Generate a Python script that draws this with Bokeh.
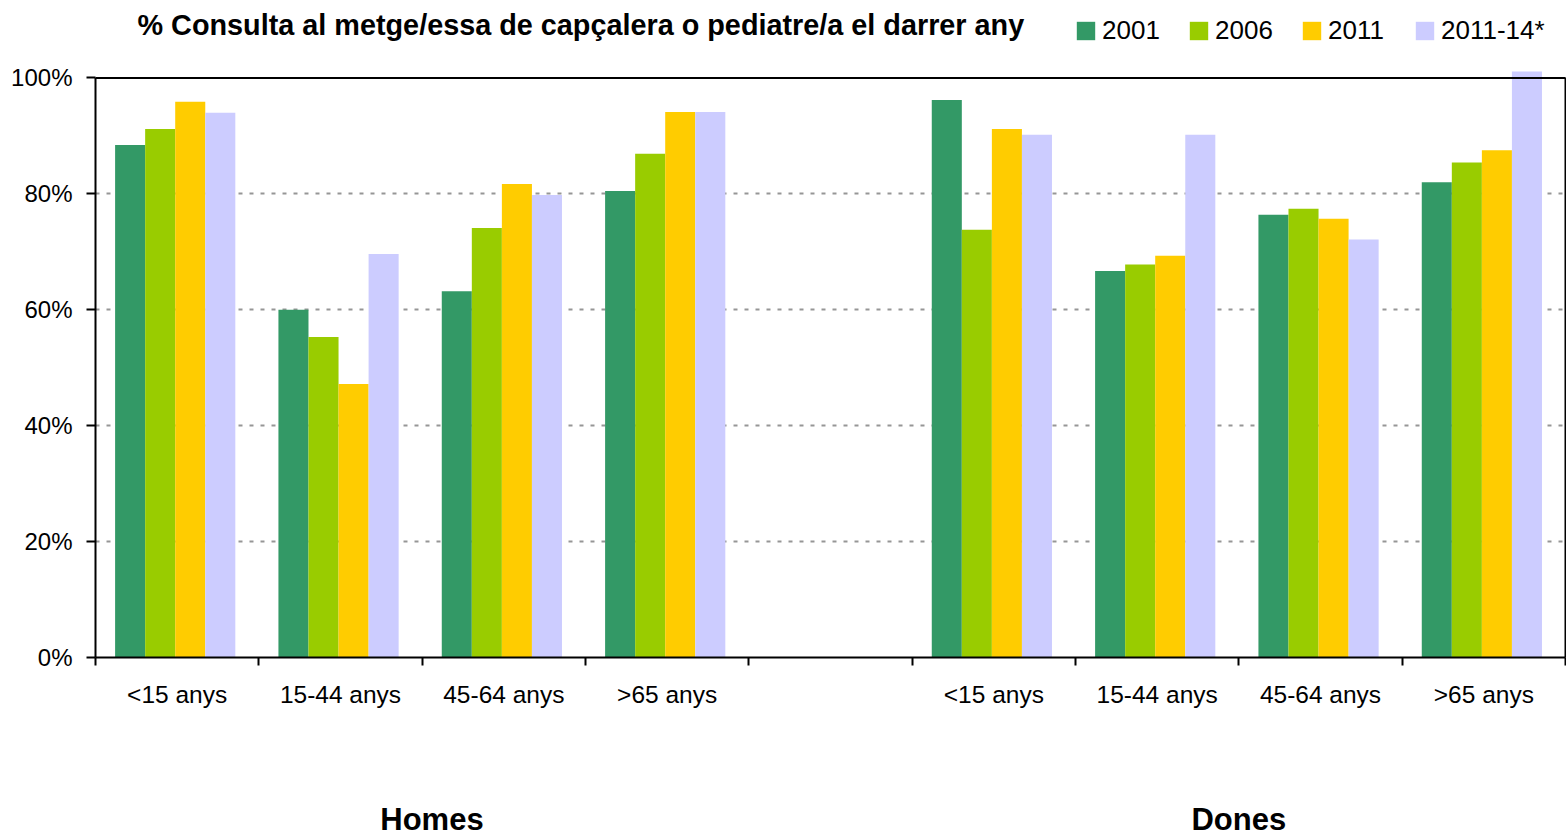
from bokeh.plotting import figure
from bokeh.models import (ColumnDataSource, Range1d, FixedTicker, PrintfTickFormatter,
                          Legend, LegendItem, Span, LinearAxis, Label)
from bokeh.embed import file_html
from bokeh.resources import INLINE
from bokeh.transform import dodge

# ---------------- data ----------------
slots = [0, 1, 2, 3, 5, 6, 7, 8]          # category slot (slot 4 is an empty gap)
age_labels = ["<15 anys", "15-44 anys", "45-64 anys", ">65 anys",
              "<15 anys", "15-44 anys", "45-64 anys", ">65 anys"]
groups = ["Homes", "Dones"]
group_pos = [2.06, 7.0]
years = ["2001", "2006", "2011", "2011-14*"]
v2001 = [88.4, 60.0, 63.2, 80.5, 96.2, 66.7, 76.4, 82.0]
v2006 = [91.2, 55.3, 74.1, 86.9, 73.8, 67.8, 77.4, 85.4]
v2011 = [95.9, 47.2, 81.7, 94.1, 91.2, 69.3, 75.7, 87.5]
v2014 = [94.0, 69.6, 79.8, 94.1, 90.2, 90.2, 72.1, 101.1]
colors = ["#339966", "#99CC00", "#FFCC00", "#CCCCFF"]
y_ticks = [0, 20, 40, 60, 80, 100]

title_text = "% Consulta al metge/essa de capçalera o pediatre/a el darrer any"

FONT = "Liberation Sans"

xc = [s + 0.5 for s in slots]
src = ColumnDataSource(dict(xc=xc, v2001=v2001, v2006=v2006, v2011=v2011, v2014=v2014))

# frame spans the whole top of the canvas so the title/legend row lies inside it
p = figure(width=1566, height=839, output_backend="svg", toolbar_location=None,
           x_range=Range1d(0, 9), y_range=Range1d(0, 113.35),
           min_border_left=95, min_border_right=1, min_border_top=0, min_border_bottom=181)
p.outline_line_color = None
p.background_fill_color = "white"
p.border_fill_color = "white"

# bars
bw = 0.184
offs = [-1.5 * bw, -0.5 * bw, 0.5 * bw, 1.5 * bw]
cols = ["v2001", "v2006", "v2011", "v2014"]
renderers = []
for col, off, c in zip(cols, offs, colors):
    r = p.vbar(x=dodge("xc", off - 0.012, range=p.x_range), top=col, width=bw,
               source=src, fill_color=c, line_color=None)
    renderers.append(r)

# y axis
p.yaxis.ticker = FixedTicker(ticks=y_ticks)
p.yaxis.formatter = PrintfTickFormatter(format="%d%%")
p.yaxis.bounds = (0, 100)
p.yaxis.axis_line_width = 2
p.yaxis.axis_line_color = "black"
p.yaxis.major_tick_out = 9
p.yaxis.major_tick_in = 0
p.yaxis.major_tick_line_width = 2
p.yaxis.minor_tick_line_color = None
p.yaxis.major_label_standoff = 14
p.yaxis.major_label_text_font = FONT
p.yaxis.major_label_text_font_size = "24px"
p.yaxis.major_label_text_color = "black"

# right border of the plot area (an unlabeled axis bounded to 0-100 %)
raxis = LinearAxis(ticker=FixedTicker(ticks=[]), bounds=(0, 100),
                   axis_line_color="black", axis_line_width=2,
                   major_tick_line_color=None, minor_tick_line_color=None,
                   major_tick_out=0, major_tick_in=0, minor_tick_out=0, minor_tick_in=0,
                   major_label_standoff=0, major_label_text_font_size="0px")
p.add_layout(raxis, "right")

# x axis (category labels, boundary ticks)
p.xaxis.ticker = FixedTicker(ticks=xc, minor_ticks=list(range(10)))
p.xaxis.major_label_overrides = {x: lbl for x, lbl in zip(xc, age_labels)}
p.xaxis.major_tick_out = 0
p.xaxis.major_tick_in = 0
p.xaxis.minor_tick_out = 8
p.xaxis.minor_tick_in = 0
p.xaxis.minor_tick_line_color = "black"
p.xaxis.minor_tick_line_width = 2
p.xaxis.axis_line_width = 2
p.xaxis.axis_line_color = "black"
p.xaxis.major_label_standoff = 15
p.xaxis.major_label_text_font = FONT
p.xaxis.major_label_text_font_size = "24.5px"
p.xaxis.major_label_text_color = "black"

# second x axis: group labels Homes / Dones
gaxis = LinearAxis(ticker=FixedTicker(ticks=group_pos),
                   major_label_overrides={x: g for x, g in zip(group_pos, groups)},
                   axis_line_color=None, major_tick_line_color=None,
                   minor_tick_line_color=None, major_tick_out=0, major_tick_in=0,
                   major_label_standoff=91,
                   major_label_text_font=FONT, major_label_text_font_style="bold",
                   major_label_text_font_size="31px", major_label_text_color="black")
p.add_layout(gaxis, "below")

# grid
p.xgrid.visible = False
p.ygrid.ticker = FixedTicker(ticks=[20, 40, 60, 80])
p.ygrid.grid_line_color = "#969696"
p.ygrid.grid_line_dash = "4 7"
p.ygrid.grid_line_width = 2

# top border of the plot area at 100 %
p.add_layout(Span(location=100, dimension="width", line_color="black", line_width=2))

# chart title
p.add_layout(Label(x=42, y=633, x_units="screen", y_units="screen", text=title_text,
                   text_align="left", text_baseline="alphabetic",
                   text_font=FONT, text_font_style="bold", text_font_size="28.8px",
                   text_color="black"))

# legend
legend = Legend(items=[LegendItem(label=y, renderers=[r]) for y, r in zip(years, renderers)],
                orientation="horizontal", location=(979, 611),
                glyph_width=23, glyph_height=23, label_standoff=5, spacing=0,
                label_width=85, padding=0, margin=0,
                border_line_color=None, background_fill_alpha=0,
                label_text_font=FONT, label_text_font_size="26px", label_text_color="black")
p.add_layout(legend)

open("out.html", "w").write(file_html(p, INLINE))
